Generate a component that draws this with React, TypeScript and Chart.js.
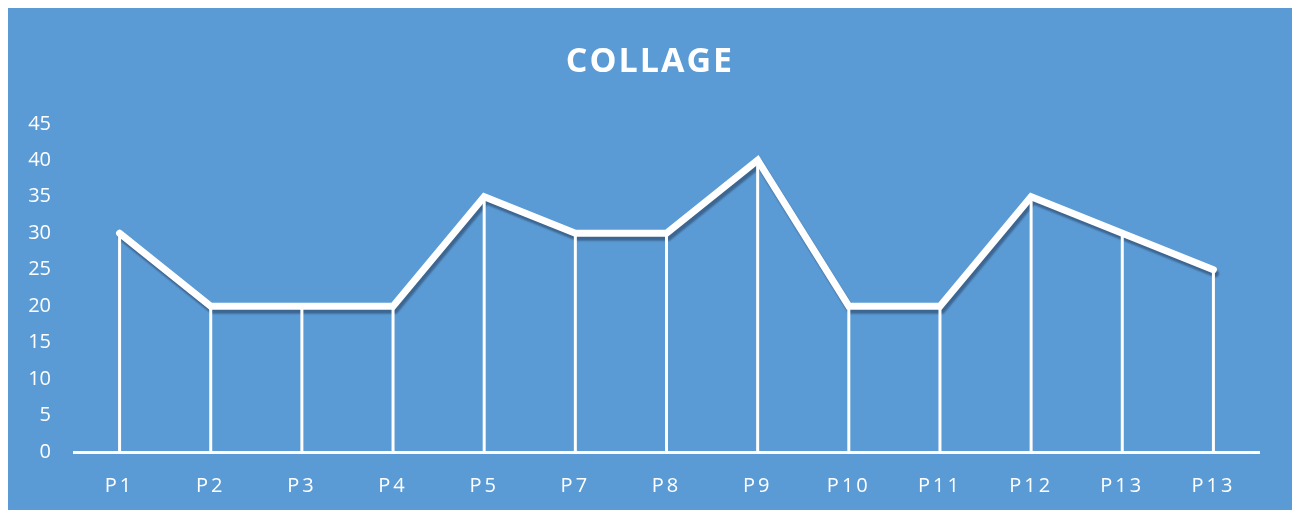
import React, { useEffect, useRef } from "react";
import { Chart, registerables, CategoryScale, LinearScale } from "chart.js";

const categories = ["P1", "P2", "P3", "P4", "P5", "P7", "P8", "P9", "P10", "P11", "P12", "P13", "P13"];
const values = [30, 20, 20, 20, 35, 30, 30, 40, 20, 20, 35, 30, 25];
const yMin = 0;
const yMax = 45;
const yStep = 5;
const titleText = "COLLAGE";

class SpacedCategoryScale extends CategoryScale {
  static id = "spacedCategory";
  static defaults = CategoryScale.defaults;
  drawLabels(area: any) {
    const ctx = (this as any).ctx;
    ctx.save();
    ctx.letterSpacing = "3px";
    super.drawLabels(area);
    ctx.restore();
  }
}

class PlainLinearScale extends LinearScale {
  static id = "plainLinear";
  static defaults = LinearScale.defaults;
  drawLabels(area: any) {
    const ctx = (this as any).ctx;
    ctx.save();
    ctx.letterSpacing = "0px";
    super.drawLabels(area);
    ctx.restore();
  }
}

Chart.register(...registerables, SpacedCategoryScale, PlainLinearScale);

const spacingPlugin = {
  id: "titleSpacing",
  beforeDraw(chart: any) {
    chart.ctx.letterSpacing = "2px";
  },
  afterDraw(chart: any) {
    chart.ctx.letterSpacing = "0px";
  },
};

const shadowPlugin = {
  id: "lineShadow",
  beforeDatasetDraw(chart: any) {
    const ctx = chart.ctx;
    ctx.save();
    ctx.shadowColor = "rgba(30,50,80,0.5)";
    ctx.shadowOffsetX = 2;
    ctx.shadowOffsetY = 4;
    ctx.shadowBlur = 2;
  },
  afterDatasetDraw(chart: any) {
    chart.ctx.restore();
  },
};

const dropLinesPlugin = {
  id: "dropLines",
  afterDatasetsDraw(chart: any) {
    const ctx = chart.ctx;
    const meta = chart.getDatasetMeta(0);
    const y0 = chart.scales.y.getPixelForValue(0);
    ctx.save();
    ctx.strokeStyle = "#ffffff";
    ctx.lineWidth = 3;
    meta.data.forEach((p: any) => {
      ctx.beginPath();
      ctx.moveTo(p.x, p.y + 2);
      ctx.lineTo(p.x, y0);
      ctx.stroke();
    });
    ctx.restore();
  },
};

export default function App() {
  const ref = useRef<HTMLCanvasElement | null>(null);
  useEffect(() => {
    if (!ref.current) return;
    const chart = new Chart(ref.current, {
      type: "line",
      data: {
        labels: categories,
        datasets: [
          {
            data: values,
            borderColor: "#ffffff",
            borderWidth: 7,
            pointRadius: 0,
            borderJoinStyle: "miter",
            borderCapStyle: "round",
            tension: 0,
            fill: false,
            yAxisID: "y",
          },
        ],
      },
      options: {
        animation: false,
        responsive: false,
        devicePixelRatio: 1,
        layout: { padding: 0 },
        plugins: {
          legend: { display: false },
          tooltip: { enabled: false },
          title: {
            display: true,
            text: titleText,
            color: "#ffffff",
            font: { family: "'Open Sans'", size: 34, weight: "bold" },
            padding: { top: 34, bottom: 41 },
          },
        },
        scales: {
          x: {
            type: "spacedCategory" as any,
            offset: true,
            grid: { display: false, drawTicks: false },
            border: { display: true, color: "#ffffff", width: 3 },
            ticks: {
              color: "#ffffff",
              font: { family: "'Open Sans'", size: 20 },
              padding: 22,
              autoSkip: false,
              maxRotation: 0,
            },
            afterFit: (s: any) => {
              s.height = 58;
            },
          },
          y: {
            type: "plainLinear" as any,
            position: "left",
            min: yMin,
            max: yMax,
            grid: { display: false, drawTicks: false },
            border: { display: false },
            ticks: {
              stepSize: yStep,
              color: "#ffffff",
              font: { family: "'Open Sans'", size: 20 },
              padding: 23,
            },
            afterFit: (s: any) => {
              s.width = 66;
            },
          },
          yRight: {
            type: "linear",
            position: "right",
            min: yMin,
            max: yMax,
            grid: { display: false, drawTicks: false },
            border: { display: false },
            ticks: { display: false },
            afterFit: (s: any) => {
              s.width = 33;
            },
          },
        },
      },
      plugins: [spacingPlugin, shadowPlugin, dropLinesPlugin],
    });
    return () => chart.destroy();
  }, []);
  return (
    <div style={{ width: 1284, height: 502 }}>
      <canvas
        ref={ref}
        width={1284}
        height={502}
        style={{ display: "block", background: "#5B9BD5", width: 1284, height: 502 }}
      />
    </div>
  );
}
